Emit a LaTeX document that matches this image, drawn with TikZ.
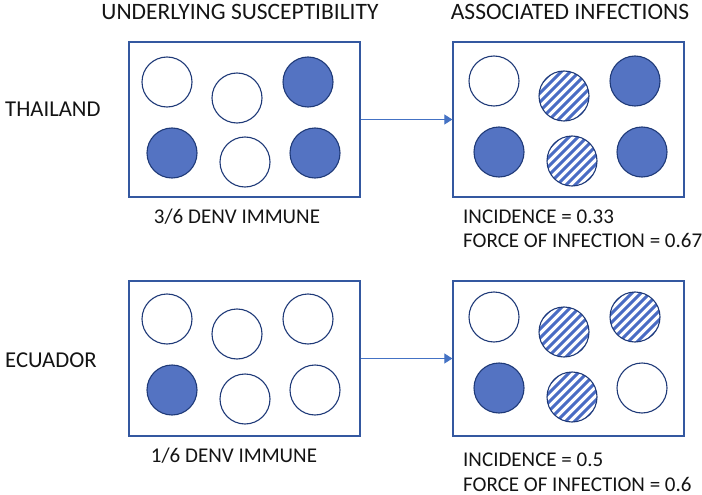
\documentclass[tikz,border=0pt]{standalone}
\usepackage{fontspec}
\setmainfont{Carlito}
\usetikzlibrary{arrows.meta}
\definecolor{boxcol}{HTML}{3458A0}
\definecolor{fillcol}{HTML}{5473C2}
\definecolor{ringcol}{HTML}{1F3A78}
\definecolor{hatchcol}{HTML}{4A6CC4}
\definecolor{arrcol}{HTML}{4472C4}
\definecolor{txtcol}{HTML}{141414}
\tikzset{
  panel/.style={draw=boxcol, line width=1.3pt, minimum width=231pt, minimum height=155pt, inner sep=0pt},
  ring/.style={circle, draw=ringcol, line width=1.1pt, minimum size=50pt, inner sep=0pt, fill=white},
  immune/.style={ring, fill=fillcol},
  infected/.style={ring, path picture={
      \foreach \t in {-63,-54,...,63}
        \draw[hatchcol, line width=3pt] ([shift={({\t pt-40pt},-40pt)}]path picture bounding box.center) -- ++(80pt,80pt);}},
  lbl/.style={text=txtcol, font=\fontsize{21}{25}\selectfont, inner sep=0pt},
  head/.style={lbl, font=\fontsize{23.5}{28}\selectfont},
  row/.style={lbl, font=\fontsize{22.7}{27}\selectfont},
  flow/.style={draw=arrcol, line width=0.9pt, -{Triangle[length=8pt,width=10pt]}}
}
\begin{document}
\begin{tikzpicture}[x=1pt,y=-1pt]
\useasboundingbox (0,0) rectangle (702,495);
% headings
\node[head, anchor=base] (h1) at (240,20) {UNDERLYING SUSCEPTIBILITY};
\node[head, anchor=base] (h2) at (570,20) {ASSOCIATED INFECTIONS};
\node[row, anchor=base west] (thai) at (5,117) {THAILAND};
\node[row, anchor=base west] (ecu) at (5,367) {ECUADOR};
% panels
\node[panel] (tl) at (244.5,119.5) {};
\node[panel] (tr) at (568.5,119.5) {};
\node[panel] (bl) at (244.5,358.5) {};
\node[panel] (br) at (568.5,358.5) {};
% arrows
\draw[flow] (tl.east) -- (tr.west);
\draw[flow] (bl.east) -- (br.west);
% top-left circles
\node[ring]   (tl1) at (167,82) {};
\node[ring]   (tl2) at (237,98) {};
\node[immune] (tl3) at (308,82) {};
\node[immune] (tl4) at (172,153) {};
\node[ring]   (tl5) at (245,162) {};
\node[immune] (tl6) at (315,153) {};
% top-right circles
\node[ring]     (tr1) at (494,81) {};
\node[infected] (tr2) at (564,96) {};
\node[immune]   (tr3) at (635,81) {};
\node[immune]   (tr4) at (499,152) {};
\node[infected] (tr5) at (572,161) {};
\node[immune]   (tr6) at (642,152) {};
% bottom-left circles
\node[ring]   (bl1) at (167,319) {};
\node[ring]   (bl2) at (237,334) {};
\node[ring]   (bl3) at (308,319) {};
\node[immune] (bl4) at (172,390) {};
\node[ring]   (bl5) at (245,399) {};
\node[ring]   (bl6) at (315,390) {};
% bottom-right circles
\node[ring]     (br1) at (494,317) {};
\node[infected] (br2) at (564,332) {};
\node[infected] (br3) at (635,317) {};
\node[immune]   (br4) at (499,388) {};
\node[infected] (br5) at (572,397) {};
\node[ring]     (br6) at (642,388) {};
% captions
\node[lbl, anchor=base] (c1) at (237,223) {3/6 DENV IMMUNE};
\node[lbl, anchor=base] (c2) at (234,462) {1/6 DENV IMMUNE};
\node[lbl, anchor=base west] (i1) at (463,223) {INCIDENCE = 0.33};
\node[lbl, anchor=base west] (f1) at (463,247) {FORCE OF INFECTION = 0.67};
\node[lbl, anchor=base west] (i2) at (463,466) {INCIDENCE = 0.5};
\node[lbl, anchor=base west] (f2) at (463,491) {FORCE OF INFECTION = 0.6};
\end{tikzpicture}
\end{document}
